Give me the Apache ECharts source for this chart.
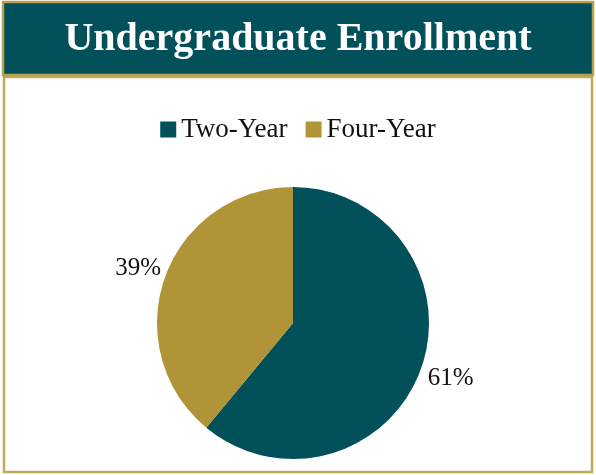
<!DOCTYPE html>
<html>
<head>
<meta charset="utf-8">
<script src="https://cdn.jsdelivr.net/npm/echarts@6/dist/echarts.min.js"></script>
<style>
html,body{margin:0;padding:0;background:#fff;}
#c{width:596px;height:475px;}
</style>
</head>
<body>
<div id="c"></div>
<script>
const titleText = 'Undergraduate Enrollment';
const categories = ['Two-Year', 'Four-Year'];
const values = [61, 39];
const colors = ['#02505a', '#b09437'];

const chart = echarts.init(document.getElementById('c'), null, {renderer: 'canvas'});
const serif = '"Liberation Serif", "DejaVu Serif", serif';
const pieCenter = [293, 323];
chart.setOption({
  animation: false,
  backgroundColor: '#ffffff',
  graphic: [
    {type: 'rect', z: 0, shape: {x: 4, y: 77, width: 588, height: 395},
     style: {fill: '#ffffff', stroke: '#c2a859', lineWidth: 2.5}},
    {type: 'rect', z: 1, shape: {x: 3, y: 2, width: 590, height: 73},
     style: {fill: '#02505a', stroke: '#b8a04f', lineWidth: 2.5}},
    {type: 'text', z: 2, left: 'center', top: 20,
     style: {text: titleText, fill: '#ffffff', font: 'bold 40px ' + serif}}
  ],
  color: colors,
  legend: {
    data: categories,
    top: 111,
    left: 'center',
    itemWidth: 16,
    itemHeight: 16,
    itemGap: 18,
    icon: 'rect',
    textStyle: {fontFamily: serif, fontSize: 27, color: '#111'}
  },
  series: [{
    type: 'pie',
    center: pieCenter,
    radius: 136,
    startAngle: 90,
    clockwise: true,
    data: categories.map((c, i) => ({name: c, value: values[i]})),
    label: {
      show: true,
      position: 'outside',
      formatter: '{d}%',
      fontFamily: serif,
      fontSize: 25,
      color: '#111'
    },
    labelLine: {show: false, length: 2, length2: 0},
    labelLayout: function (p) {
      const up = p.labelRect.y + p.labelRect.height / 2 < pieCenter[1];
      return {dx: up ? 3 : 0, dy: up ? -8 : 9};
    },
    emphasis: {disabled: true}
  }]
});
</script>
</body>
</html>
